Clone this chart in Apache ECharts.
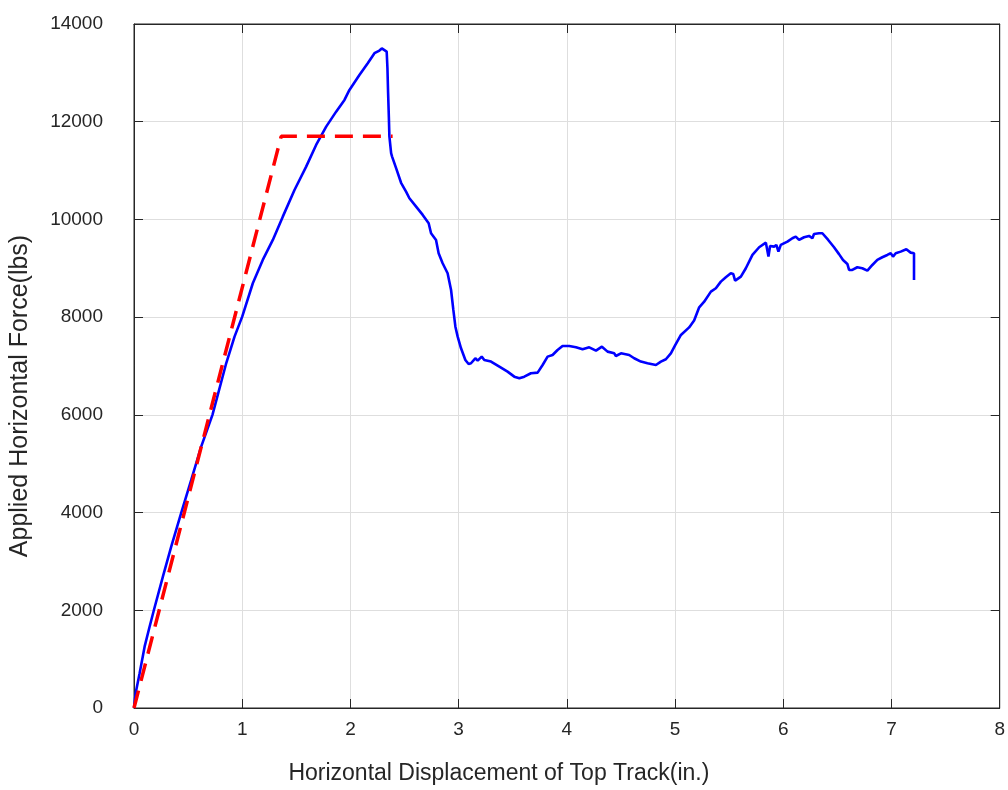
<!DOCTYPE html>
<html>
<head>
<meta charset="utf-8">
<script src="https://cdn.jsdelivr.net/npm/echarts@6/dist/echarts.min.js"></script>
<style>
  html, body { margin: 0; padding: 0; background: #ffffff; }
  #chart { width: 1008px; height: 790px; }
</style>
</head>
<body>
<div id="chart"></div>
<script>
// Measured load–displacement response of the top track (in., lbs)
const measuredDisp = [
  0, 0.005, 0.015, 0.052, 0.098, 0.144, 0.184, 0.267, 0.344, 0.437, 0.529, 0.621, 0.725,
  0.852, 0.929, 1.0, 1.098, 1.19, 1.283, 1.375, 1.483, 1.591, 1.683, 1.776, 1.868, 1.945,
  1.991, 2.083, 2.16, 2.222, 2.268, 2.29, 2.308, 2.335, 2.342, 2.348, 2.355, 2.36, 2.376,
  2.385, 2.422, 2.468, 2.514, 2.545, 2.607, 2.668, 2.723, 2.745, 2.791, 2.815, 2.852, 2.898,
  2.93, 2.951, 2.97, 2.991, 3.022, 3.062, 3.092, 3.114, 3.154, 3.176, 3.213, 3.237, 3.299,
  3.376, 3.452, 3.514, 3.561, 3.607, 3.668, 3.73, 3.776, 3.822, 3.868, 3.914, 3.96, 4.022,
  4.084, 4.145, 4.207, 4.269, 4.324, 4.376, 4.438, 4.453, 4.5, 4.576, 4.622, 4.684, 4.745,
  4.823, 4.869, 4.915, 4.961, 5.0, 5.054, 5.13, 5.176, 5.223, 5.269, 5.331, 5.377, 5.423,
  5.469, 5.515, 5.537, 5.555, 5.608, 5.654, 5.715, 5.777, 5.839, 5.853, 5.863, 5.878, 5.915,
  5.936, 5.955, 5.977, 6.038, 6.084, 6.115, 6.146, 6.192, 6.238, 6.269, 6.284, 6.33, 6.361,
  6.415, 6.469, 6.515, 6.552, 6.592, 6.608, 6.638, 6.684, 6.73, 6.777, 6.823, 6.869, 6.915,
  6.961, 6.993, 7.014, 7.039, 7.085, 7.137, 7.177, 7.208, 7.208
];
const measuredForce = [
  0, 30, 300, 710, 1255, 1664, 2006, 2688, 3302, 3998, 4667, 5349, 6000,
  7056, 7601, 8010, 8694, 9171, 9580, 10057, 10603, 11081, 11525, 11900, 12206, 12446,
  12651, 12958, 13197, 13402, 13456, 13500, 13538, 13436, 13100, 12600, 12100, 11700, 11355,
  11286, 11050, 10750, 10569, 10433, 10262, 10092, 9922, 9717, 9580, 9308, 9103, 8898,
  8556, 8147, 7805, 7601, 7363, 7124, 7040, 7056, 7158, 7110, 7192, 7124, 7090,
  6987, 6884, 6782, 6749, 6782, 6851, 6864, 7021, 7192, 7226, 7328, 7410, 7410,
  7383, 7342, 7383, 7314, 7396, 7294, 7260, 7205, 7260, 7226, 7158, 7090, 7056,
  7021, 7090, 7138, 7260, 7420, 7635, 7790, 7930, 8202, 8317, 8522, 8591, 8727,
  8817, 8898, 8884, 8747, 8829, 9001, 9273, 9431, 9525, 9512, 9239, 9457, 9443,
  9478, 9341, 9478, 9545, 9615, 9648, 9580, 9635, 9662, 9615, 9703, 9717, 9717,
  9580, 9430, 9290, 9171, 9089, 8966, 8966, 9021, 9001, 8952, 9068, 9171, 9226,
  9273, 9308, 9239, 9308, 9341, 9390, 9321, 9308, 8761
];

// Idealised bilinear (elastic–plastic) model
const modelDisp = [0, 1.36, 2.39];
const modelForce = [0, 11700, 11700];

// Axis ranges and tick labels
const xTicks = [0, 1, 2, 3, 4, 5, 6, 7, 8];
const yTicks = [0, 2000, 4000, 6000, 8000, 10000, 12000, 14000];

const xName = 'Horizontal Displacement of Top Track(in.)';
const yName = 'Applied Horizontal Force(lbs)';

const pairs = (xs, ys) => xs.map((x, i) => [x, ys[i]]);

const ink = '#262626';
const font = '"Liberation Sans", Arial, Helvetica, sans-serif';

const chart = echarts.init(document.getElementById('chart'), null, { renderer: 'canvas' });

function xAxisDef(pos, extra) {
  return Object.assign({
    type: 'value',
    position: pos,
    min: xTicks[0],
    max: xTicks[xTicks.length - 1],
    interval: xTicks[1] - xTicks[0],
    axisLine: { show: true, onZero: false, lineStyle: { color: ink, width: 1 } },
    axisTick: { show: true, inside: true, length: 9, lineStyle: { color: ink, width: 1 } },
    axisLabel: { show: false },
    splitLine: { show: false }
  }, extra || {});
}
function yAxisDef(pos, extra) {
  return Object.assign({
    type: 'value',
    position: pos,
    min: yTicks[0],
    max: yTicks[yTicks.length - 1],
    interval: yTicks[1] - yTicks[0],
    axisLine: { show: true, onZero: false, lineStyle: { color: ink, width: 1 } },
    axisTick: { show: true, inside: true, length: 9, lineStyle: { color: ink, width: 1 } },
    axisLabel: { show: false },
    splitLine: { show: false }
  }, extra || {});
}

chart.setOption({
  animation: false,
  backgroundColor: '#ffffff',
  grid: {
    left: 131, right: 6, top: 24, bottom: 82, containLabel: false,
    show: true, borderColor: ink, borderWidth: 1, backgroundColor: 'transparent'
  },
  xAxis: [
    xAxisDef('bottom', {
      name: xName,
      nameLocation: 'middle',
      nameGap: 54,
      nameTextStyle: { color: ink, fontSize: 23, fontFamily: font, padding: [0, 136, 0, 0] },
      axisLabel: { show: true, color: ink, fontSize: 19, fontFamily: font, margin: 12,
        formatter: v => String(v) },
      splitLine: { show: true, lineStyle: { color: '#dedede', width: 1 } }
    }),
    xAxisDef('top')
  ],
  yAxis: [
    yAxisDef('left', {
      name: yName,
      nameLocation: 'middle',
      nameGap: 101,
      nameTextStyle: { color: ink, fontSize: 25, fontFamily: font, padding: [0, 60, 0, 0] },
      axisLabel: { show: true, color: ink, fontSize: 19, fontFamily: font, margin: 31,
        padding: [0, 0, 8, 0], formatter: v => String(v) },
      splitLine: { show: true, lineStyle: { color: '#dedede', width: 1 } }
    }),
    yAxisDef('right')
  ],
  series: [
    {
      name: 'Measured',
      type: 'line',
      xAxisIndex: 0,
      yAxisIndex: 0,
      data: pairs(measuredDisp, measuredForce),
      showSymbol: false,
      smooth: false,
      lineStyle: { color: '#0000ff', width: 2.6 },
      z: 3
    },
    {
      name: 'Model',
      type: 'line',
      xAxisIndex: 0,
      yAxisIndex: 0,
      data: pairs(modelDisp, modelForce),
      showSymbol: false,
      smooth: false,
      lineStyle: { color: '#ff0000', width: 3.5, type: [18, 10] },
      z: 4
    },
    {
      // empty series that keeps the top/right frame axes active
      name: 'frame',
      type: 'line',
      xAxisIndex: 1,
      yAxisIndex: 1,
      data: [],
      silent: true
    }
  ]
});
</script>
</body>
</html>
